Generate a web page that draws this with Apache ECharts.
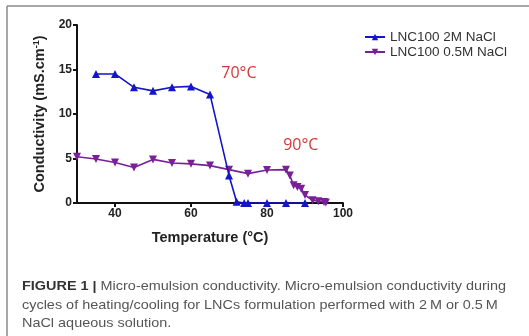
<!DOCTYPE html>
<html>
<head>
<meta charset="utf-8">
<script src="https://cdn.jsdelivr.net/npm/echarts@6/dist/echarts.min.js"></script>
<style>
  html, body { margin: 0; padding: 0; background: #fff; }
  #chart { width: 529px; height: 336px; }
</style>
</head>
<body>
<div id="chart"></div>
<script>
var temp2M = [35, 40, 45, 50, 55, 60, 65, 70, 72, 74, 75, 80, 85, 90];
var cond2M = [14.5, 14.5, 13, 12.6, 13, 13.1, 12.2, 3.1, 0.15, 0, 0, 0, 0, 0];

var temp05M = [30, 35, 40, 45, 50, 55, 60, 65, 70, 75, 80, 85, 86, 87, 88, 89, 90, 92, 93.5, 95, 95.5];
var cond05M = [5.2, 4.95, 4.55, 4.0, 4.9, 4.5, 4.4, 4.2, 3.75, 3.3, 3.7, 3.75, 3.1, 2.0, 1.8, 1.6, 0.9, 0.3, 0.2, 0.1, 0.05];

var xTicks = [40, 60, 80, 100];
var seriesNames = ['LNC100 2M NaCl', 'LNC100 0.5M NaCl'];
// label text, temperature, conductivity (where the label sits)
var annotations = [['70°C', 72.6, 14.6], ['90°C', 88.9, 6.5]];

var font = '"Liberation Sans", Arial, sans-serif';

function pairs(xs, ys) {
    return xs.map(function (x, i) { return [x, ys[i]]; });
}

function note(a) {
    return {
        symbol: 'circle',
        symbolSize: 0,
        label: { show: true, color: '#d0383a', fontSize: 16, fontFamily: '"Open Sans", sans-serif', formatter: '{b}' },
        data: [{ name: a[0], coord: [a[1], a[2]] }]
    };
}

var myChart = echarts.init(document.getElementById('chart'));

var option = {
    backgroundColor: '#fff',
    animation: false,
    textStyle: { fontFamily: font },
    grid: { left: 77, right: 186, top: 25, bottom: 133 },
    legend: {
        orient: 'vertical',
        left: 359,
        top: 25,
        itemWidth: 20,
        itemHeight: 8,
        itemGap: 1,
        textStyle: { fontSize: 13.5, color: '#333', fontFamily: font },
        data: seriesNames
    },
    xAxis: {
        type: 'value',
        min: 30,
        max: 100,
        name: 'Temperature (°C)',
        nameLocation: 'middle',
        nameGap: 27,
        nameTextStyle: { fontSize: 14.5, fontWeight: 'bold', color: '#222' },
        splitLine: { show: false },
        axisLine: { lineStyle: { color: '#111', width: 2 } },
        axisTick: { customValues: xTicks, length: 4, lineStyle: { color: '#111', width: 2 } },
        axisLabel: { customValues: xTicks, fontSize: 12, fontWeight: 'bold', color: '#222', margin: 5 }
    },
    yAxis: {
        type: 'value',
        min: 0,
        max: 20,
        interval: 5,
        name: 'Conductivity (mS.cm{sup|-1})',
        nameLocation: 'middle',
        nameGap: 25,
        nameTextStyle: {
            fontSize: 14.5, fontWeight: 'bold', color: '#222',
            rich: { sup: { fontSize: 9, fontWeight: 'bold', color: '#222', verticalAlign: 'top', padding: [0, 0, 7, 0] } }
        },
        splitLine: { show: false },
        axisLine: { show: true, lineStyle: { color: '#111', width: 2 } },
        axisTick: { show: true, length: 4, lineStyle: { color: '#111', width: 2 } },
        axisLabel: { fontSize: 12, fontWeight: 'bold', color: '#222', margin: 5 }
    },
    series: [
        {
            name: seriesNames[0],
            type: 'line',
            data: pairs(temp2M, cond2M),
            symbol: 'triangle',
            symbolSize: 8,
            color: '#1414c8',
            lineStyle: { width: 1.6 },
            z: 3,
            markPoint: note(annotations[0])
        },
        {
            name: seriesNames[1],
            type: 'line',
            data: pairs(temp05M, cond05M),
            symbol: 'triangle',
            symbolRotate: 180,
            symbolSize: 8,
            color: '#7a1f9a',
            lineStyle: { width: 1.6 },
            z: 2,
            markPoint: note(annotations[1])
        }
    ],
    graphic: [
        { type: 'line', shape: { x1: 7, y1: 6, x2: 529, y2: 6 }, style: { stroke: '#8a8a8a', lineWidth: 1.5 } },
        { type: 'line', shape: { x1: 7, y1: 6, x2: 7, y2: 336 }, style: { stroke: '#8a8a8a', lineWidth: 1.5 } },
        {
            type: 'text', x: 22, y: 280, scaleX: 1.11,
            style: {
                text: '{b|FIGURE 1 |} Micro-emulsion conductivity. Micro-emulsion conductivity during',
                fill: '#555', fontSize: 13, fontFamily: font,
                rich: { b: { fontWeight: 'bold', fill: '#333', fontSize: 13, fontFamily: font } }
            }
        },
        {
            type: 'text', x: 22, y: 299, scaleX: 1.11,
            style: { text: 'cycles of heating/cooling for LNCs formulation performed with 2\u2009M or 0.5\u2009M', fill: '#555', fontSize: 13, fontFamily: font }
        },
        {
            type: 'text', x: 22, y: 317, scaleX: 1.11,
            style: { text: 'NaCl aqueous solution.', fill: '#555', fontSize: 13, fontFamily: font }
        }
    ]
};

myChart.setOption(option);
</script>
</body>
</html>
